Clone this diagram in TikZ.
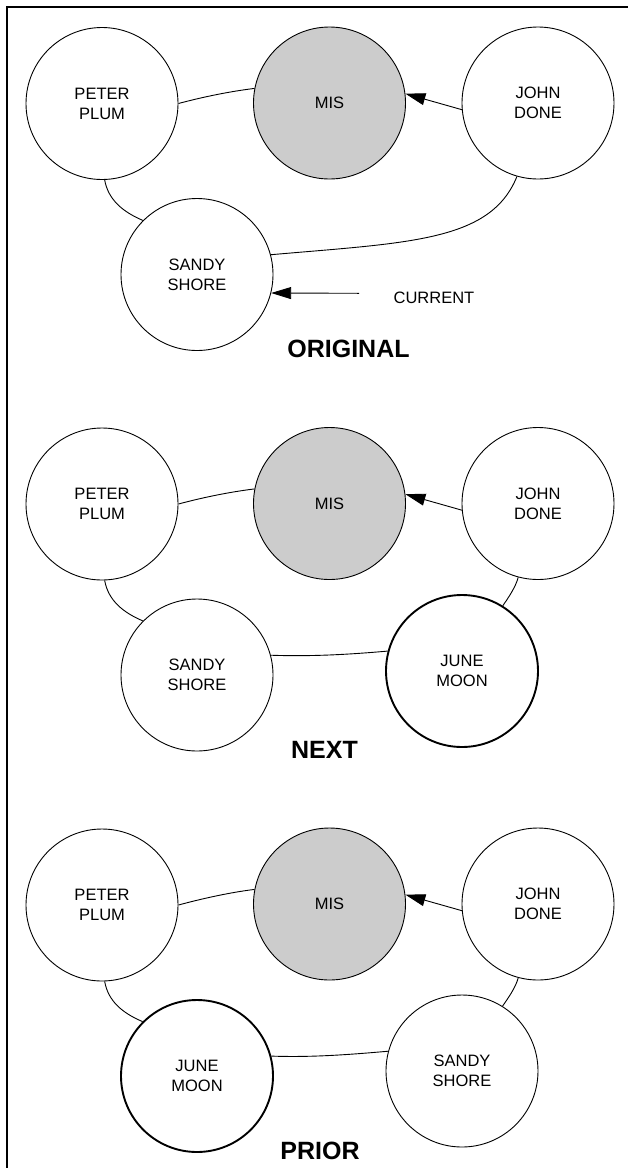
\documentclass[tikz,border=0pt]{standalone}
\usepackage{fontspec}
\setmainfont{Liberation Sans}
\usetikzlibrary{arrows.meta}
\newcommand\lblfont{\fontsize{16.5}{20}\selectfont}
\newcommand\ttlfont{\fontsize{25}{30}\selectfont\bfseries}
\begin{document}
\begin{tikzpicture}[x=1pt,y=1pt,
  person/.style={circle, draw, line width=0.9pt, minimum size=152pt,
    inner sep=0pt, font=\lblfont, align=center},
  newcomer/.style={person, line width=1.9pt},
  hub/.style={person, fill=black!20},
  link/.style={line width=0.9pt},
  ptr/.style={line width=0.9pt, -{Triangle[length=20pt,width=12pt]}},
  caption/.style={font=\ttlfont, inner sep=0pt},
  note/.style={font=\lblfont, inner sep=0pt}]
\useasboundingbox (0,0) rectangle (628,-1168);
% page frame (top and left rules)
\draw[line width=1.3pt] (7,-1168) -- (7,-7) -- (628,-7);

% ---------- ORIGINAL ----------
\node[person] (p1peter) at (102,-103.5) {PETER\\PLUM};
\node[hub]    (p1mis)   at (329.5,-103) {MIS};
\node[person] (p1john)  at (538,-103)   {JOHN\\DONE};
\node[person] (p1sandy) at (197,-274.5) {SANDY\\SHORE};
\draw[link] (p1peter.0) .. controls +(15:25) and +(187:25) .. (p1mis.169);
\draw[ptr]  (p1john.185) -- (p1mis.7);
\draw[link] (p1peter.272) .. controls +(-80:20) and +(157:22) .. (p1sandy.135);
\draw[link] (p1john.254) .. controls +(-112:70) and +(5:140) .. (p1sandy.15);
\node[note] (current) at (434,-297.5) {CURRENT};
\coordinate (curtail) at (359,-293.3);
\draw[ptr] (curtail) -- (p1sandy.-14);
\node[caption] (t1) at (348.5,-349) {ORIGINAL};

% ---------- NEXT ----------
\node[person]   (p2peter) at (102,-504)   {PETER\\PLUM};
\node[hub]      (p2mis)   at (329.5,-503.5) {MIS};
\node[person]   (p2john)  at (538,-503.5) {JOHN\\DONE};
\node[person]   (p2sandy) at (197,-675)   {SANDY\\SHORE};
\node[newcomer] (p2june)  at (462,-671)   {JUNE\\MOON};
\draw[link] (p2peter.0) .. controls +(15:25) and +(187:25) .. (p2mis.169);
\draw[ptr]  (p2john.185) -- (p2mis.7);
\draw[link] (p2peter.272) .. controls +(-80:20) and +(157:22) .. (p2sandy.135);
\draw[link] (p2john.255) .. controls +(-105:10) and +(55:10) .. (p2june.58);
\draw[link] (p2sandy.15) .. controls +(-2:40) and +(185:40) .. (p2june.165);
\node[caption] (t2) at (324.5,-750) {NEXT};

% ---------- PRIOR ----------
\node[person]   (p3peter) at (102,-905)   {PETER\\PLUM};
\node[hub]      (p3mis)   at (329.5,-904) {MIS};
\node[person]   (p3john)  at (538,-904)   {JOHN\\DONE};
\node[newcomer] (p3june)  at (197,-1076)  {JUNE\\MOON};
\node[person]   (p3sandy) at (462,-1071)  {SANDY\\SHORE};
\draw[link] (p3peter.0) .. controls +(15:25) and +(187:25) .. (p3mis.169);
\draw[ptr]  (p3john.185) -- (p3mis.7);
\draw[link] (p3peter.272) .. controls +(-80:20) and +(157:22) .. (p3june.135);
\draw[link] (p3john.255) .. controls +(-105:10) and +(55:10) .. (p3sandy.58);
\draw[link] (p3june.15) .. controls +(-2:40) and +(185:40) .. (p3sandy.165);
\node[caption] (t3) at (320,-1151) {PRIOR};
\end{tikzpicture}
\end{document}
